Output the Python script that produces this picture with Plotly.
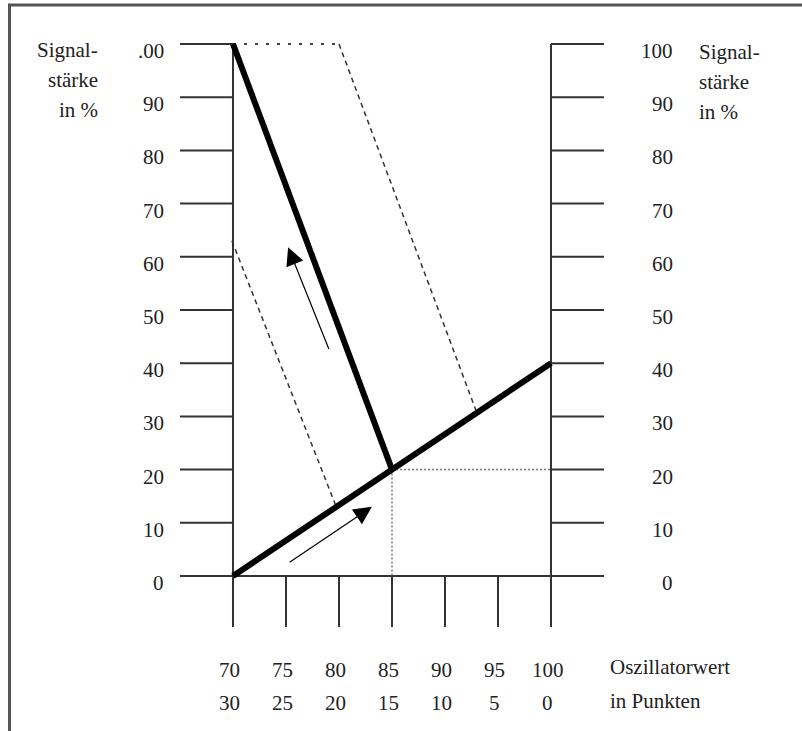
import plotly.graph_objects as go

# signal strength axis (both sides)
signal_ticks = [0, 10, 20, 30, 40, 50, 60, 70, 80, 90, 100]
left_labels = ["0", "10", "20", "30", "40", "50", "60", "70", "80", "90", ".00"]
right_labels = ["0", "10", "20", "30", "40", "50", "60", "70", "80", "90", "100"]

# oscillator axis
osc_ticks = [70, 75, 80, 85, 90, 95, 100]
osc_top = ["70", "75", "80", "85", "90", "95", "100"]
osc_bottom = ["30", "25", "20", "15", "10", "5", "0"]

# main curves
fall_x, fall_y = [70, 85], [100, 20]
rise_x, rise_y = [70, 100], [0, 40]

# helper lines
top_dot_x, top_dot_y = [70, 80], [100, 100]
upper_dash_x, upper_dash_y = [80, 93], [100, 30.7]
lower_dash_x, lower_dash_y = [69.9, 79.7], [63, 13.2]
h_dot_x, h_dot_y = [85, 100], [20, 20]
v_dot_x, v_dot_y = [85, 85], [20, 0]

# arrows: (tail_x, tail_y, tip_x, tip_y)
arrow_up = (79.1, 42.4, 75.2, 61.8)
arrow_dn = (75.2, 2.4, 83.1, 13.0)

FONT = dict(family="Liberation Serif, DejaVu Serif, serif", size=21, color="#222")
AX = "#333"

fig = go.Figure()

def seg(x, y, width=2, color=AX, dash="solid"):
    fig.add_trace(go.Scatter(x=x, y=y, mode="lines", hoverinfo="skip",
                             showlegend=False,
                             line=dict(color=color, width=width, dash=dash)))

# axis frame
seg([70, 70], [-9.6, 100])
seg([100, 100], [-9.6, 100])
seg([65, 105], [0, 0])
for v in signal_ticks:
    seg([65, 70], [v, v])
    seg([100, 105], [v, v])
for v in osc_ticks:
    seg([v, v], [0, -9.6])

# helper lines
seg(top_dot_x, top_dot_y, width=2, color="#444", dash="3px,8px")
seg(upper_dash_x, upper_dash_y, width=1.5, color="#333", dash="5px,4px")
seg(lower_dash_x, lower_dash_y, width=1.5, color="#333", dash="5px,4px")
seg(h_dot_x, h_dot_y, width=1.5, color="#777", dash="2px,2px")
seg(v_dot_x, v_dot_y, width=1.5, color="#777", dash="2px,2px")

# main curves
seg(fall_x, fall_y, width=6, color="black")
seg(rise_x, rise_y, width=6, color="black")

ann = []
for v, lab in zip(signal_ticks, left_labels):
    ann.append(dict(x=63.7, y=v, text=lab, xanchor="right", yanchor="middle",
                    yshift=-7, showarrow=False, font=FONT))
for v, lab in zip(signal_ticks, right_labels):
    ann.append(dict(x=111.7, y=v, text=lab, xanchor="right", yanchor="middle",
                    yshift=-7, showarrow=False, font=FONT))
for v, a, b in zip(osc_ticks, osc_top, osc_bottom):
    ann.append(dict(x=v, y=-17.7, text=a, xanchor="center", yanchor="middle",
                    xshift=-3, showarrow=False, font=FONT))
    ann.append(dict(x=v, y=-23.8, text=b, xanchor="center", yanchor="middle",
                    xshift=-3, showarrow=False, font=FONT))

# axis titles
for i, t in enumerate(["Signal-", "stärke", "in %"]):
    ann.append(dict(x=57.5, y=100, yshift=-6 - 30 * i, text=t, xanchor="right",
                    yanchor="middle", showarrow=False, font=FONT))
    ann.append(dict(x=113.8, y=100, yshift=-8 - 30 * i, text=t, xanchor="left",
                    yanchor="middle", showarrow=False, font=FONT))
ann.append(dict(x=105.4, y=-17.2, text="Oszillatorwert", xanchor="left",
                yanchor="middle", showarrow=False, font=FONT))
ann.append(dict(x=105.4, y=-23.5, text="in Punkten", xanchor="left",
                yanchor="middle", showarrow=False, font=FONT))

# arrows
for tx, ty, hx, hy in [arrow_up, arrow_dn]:
    ann.append(dict(x=hx, y=hy, ax=tx, ay=ty, xref="x", yref="y",
                    axref="x", ayref="y", text="", showarrow=True,
                    arrowhead=2, arrowsize=3, arrowwidth=1.2,
                    arrowcolor="black"))

fig.update_layout(
    width=802, height=731,
    margin=dict(l=0, r=0, t=0, b=0),
    paper_bgcolor="white", plot_bgcolor="white",
    xaxis=dict(range=[48.02, 123.68], visible=False, fixedrange=True),
    yaxis=dict(range=[-29.14, 108.27], visible=False, fixedrange=True),
    annotations=ann,
    shapes=[
        dict(type="line", xref="paper", yref="paper", x0=9.5 / 802, x1=9.5 / 802,
             y0=0, y1=1 - 5 / 731, line=dict(color="#555", width=3)),
        dict(type="line", xref="paper", yref="paper", x0=8 / 802, x1=1,
             y0=1 - 5 / 731, y1=1 - 5 / 731, line=dict(color="#555", width=3)),
    ],
)

fig.write_html("out.html", config={"displayModeBar": False},
               post_script="document.body.style.margin='0';")
